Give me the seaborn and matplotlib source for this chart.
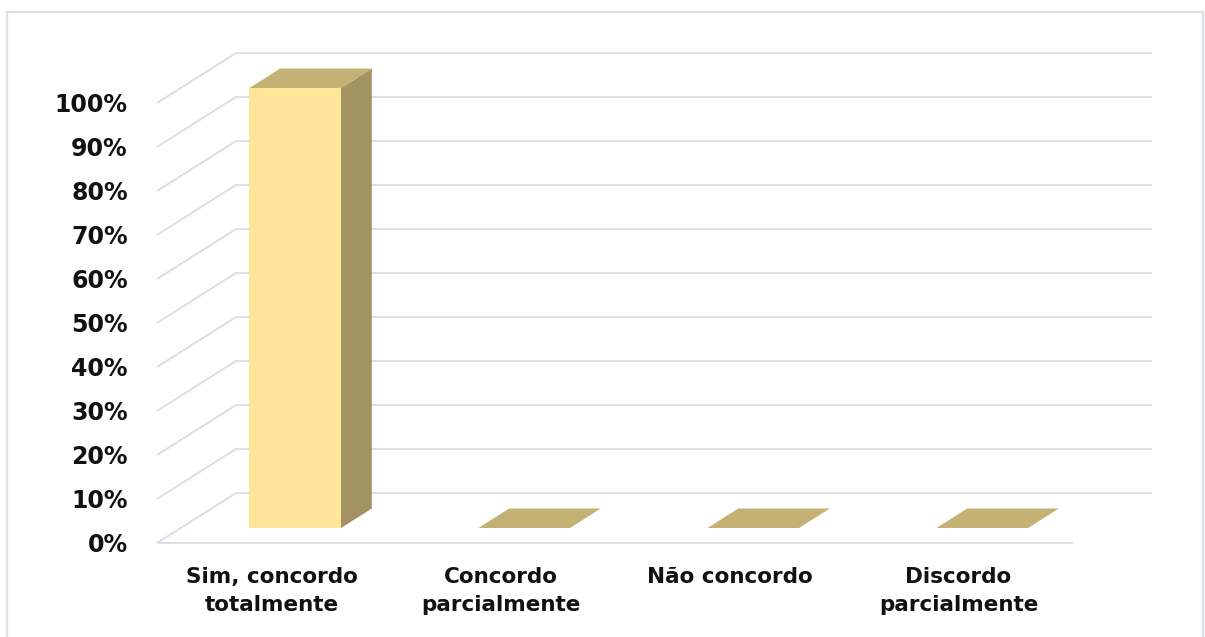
import matplotlib
matplotlib.use("Agg")
import matplotlib.pyplot as plt
from matplotlib.patches import Polygon, Rectangle
from matplotlib.transforms import Affine2D
import numpy as np
import pandas as pd
import seaborn as sns

# Survey answers and share of respondents
categories = ["Sim, concordo\ntotalmente", "Concordo\nparcialmente",
              "Não concordo", "Discordo\nparcialmente"]
values = [1.00, 0.00, 0.00, 0.00]
tick_values = [i / 10 for i in range(11)]
tick_labels = [f"{i * 10}%" for i in range(11)]

# Colours of the box faces and of the walls
front_color = "#FFE699"
side_color = "#A39262"
top_color = "#C4B174"
grid_color = "#D9DCE6"
text_color = "#111111"

# Oblique depth vector, in data units, for a full step into the chart
DX, DY = 0.345, 0.1136
BAR_FRONT, BAR_BACK = 0.30, 0.69

sns.set_theme(style="white")
plt.rcParams["font.family"] = ["DejaVu Sans"]

W, H = 1205, 637
fig = plt.figure(figsize=(W / 100, H / 100), dpi=100)
fig.patch.set_facecolor("white")
ax = fig.add_axes([157 / W, 94 / H, 916 / W, 440 / H])
ax.set_facecolor("none")

df = pd.DataFrame({"resposta": categories, "valor": values})
sns.barplot(data=df, x="resposta", y="valor", width=0.4, color=front_color,
            saturation=1, ax=ax, zorder=3)

ax.set_xlim(-0.5, 3.5)
ax.set_ylim(0, 1)

# Walls: left side diagonals, back wall lines and the front floor edge
x_left, x_right = -0.5, 3.5
for y in tick_values:
    ax.plot([x_left, x_left + DX], [y, y + DY], color=grid_color, lw=1.3,
            zorder=0.5, clip_on=False, solid_capstyle="butt")
    ax.plot([x_left + DX, x_right + DX], [y + DY, y + DY], color=grid_color,
            lw=1.3, zorder=0.5, clip_on=False, solid_capstyle="butt")
ax.plot([x_left, x_right], [0, 0], color=grid_color, lw=1.3, zorder=0.5,
        clip_on=False, solid_capstyle="butt")

# Push each front face into the depth and add its side and top faces
shift = Affine2D().translate(BAR_FRONT * DX, BAR_FRONT * DY)
for patch in ax.patches:
    x0 = patch.get_x()
    x1 = x0 + patch.get_width()
    h = patch.get_height()
    patch.set_transform(shift + ax.transData)
    patch.set_edgecolor("none")
    patch.set_clip_on(False)
    fx, fy = BAR_FRONT * DX, BAR_FRONT * DY
    bx, by = BAR_BACK * DX, BAR_BACK * DY
    if h > 0:
        side = Polygon([(x1 + fx, fy), (x1 + bx, by), (x1 + bx, h + by),
                        (x1 + fx, h + fy)], closed=True, facecolor=side_color,
                       edgecolor="none", zorder=2.9, clip_on=False)
        ax.add_patch(side)
    top = Polygon([(x0 + fx, h + fy), (x1 + fx, h + fy), (x1 + bx, h + by),
                   (x0 + bx, h + by)], closed=True, facecolor=top_color,
                  edgecolor="none", zorder=3.1, clip_on=False)
    ax.add_patch(top)

ax.set_yticks(tick_values)
ax.set_yticklabels(tick_labels, fontsize=17, fontweight="bold", color=text_color)
ax.set_xticks(range(len(categories)))
ax.set_xticklabels(categories, fontsize=15.5, fontweight="bold", color=text_color,
                   linespacing=1.5)
ax.tick_params(axis="y", length=0, pad=21)
ax.tick_params(axis="x", length=0, pad=17)
ax.set_xlabel("")
ax.set_ylabel("")
for s in ax.spines.values():
    s.set_visible(False)

# Chart area frame
fig.patches.append(Rectangle((7 / W, -0.05), (1203 - 7) / W, (H - 12) / H + 0.05,
                             transform=fig.transFigure, fill=False,
                             edgecolor="#DADFE8", lw=1.6))

fig.savefig("out.png", dpi=100)
